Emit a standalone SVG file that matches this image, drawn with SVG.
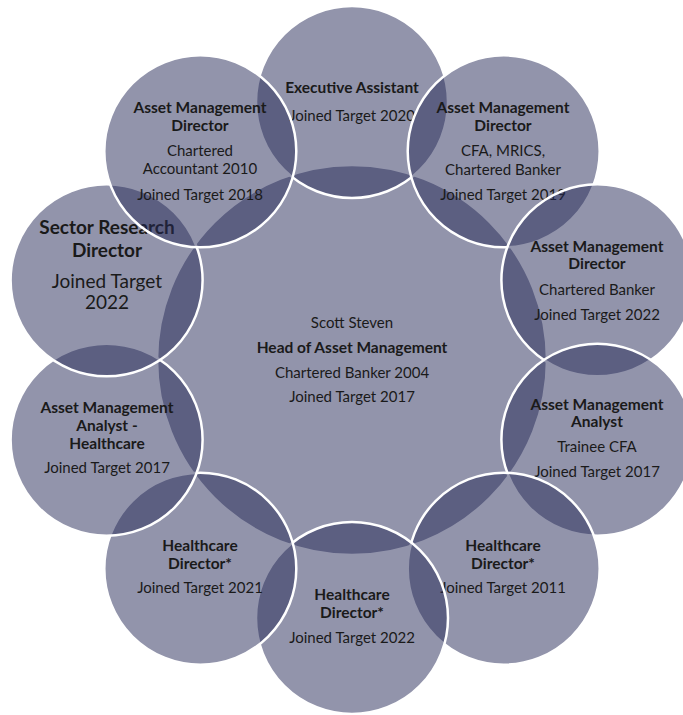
<svg xmlns="http://www.w3.org/2000/svg" width="683" height="715" viewBox="0 0 683 715">
<style>
.c{fill:#262A57;fill-opacity:0.5;stroke:#FFFFFF;stroke-width:2.5}
text{font-family:Lato,"Open Sans","Noto Sans",sans-serif;font-size:15px;fill:#1a1a1a;text-anchor:middle}
.b{font-weight:bold;font-size:15.5px}
.l{font-size:19px}
</style>
<rect width="683" height="715" fill="#FFFFFF"/>
<g id="center">
<circle class="c" cx="352" cy="360" r="195"/>
<text x="352" y="328">Scott Steven</text>
<text class="b" x="352" y="353">Head of Asset Management</text>
<text x="352" y="378">Chartered Banker 2004</text>
<text x="352" y="402">Joined Target 2017</text>
</g>
<g id="executive-assistant">
<circle class="c" cx="352" cy="102" r="96"/>
<text class="b" x="352" y="93">Executive Assistant</text>
<text x="352" y="121">Joined Target 2020</text>
</g>
<g id="amd-cfa">
<circle class="c" cx="503.7" cy="151.3" r="96"/>
<text class="b" x="503" y="113">Asset Management</text>
<text class="b" x="503" y="131">Director</text>
<text x="503" y="156">CFA, MRICS,</text>
<text x="503" y="175">Chartered Banker</text>
<text x="503" y="200">Joined Target 2019</text>
</g>
<g id="amd-banker">
<circle class="c" cx="597.4" cy="280.3" r="96"/>
<text class="b" x="597" y="252">Asset Management</text>
<text class="b" x="597" y="269">Director</text>
<text x="597" y="295">Chartered Banker</text>
<text x="597" y="320">Joined Target 2022</text>
</g>
<g id="analyst-trainee">
<circle class="c" cx="597.4" cy="439.7" r="96"/>
<text class="b" x="597" y="410">Asset Management</text>
<text class="b" x="597" y="427">Analyst</text>
<text x="597" y="452">Trainee CFA</text>
<text x="597" y="477">Joined Target 2017</text>
</g>
<g id="healthcare-2011">
<circle class="c" cx="503.7" cy="568.7" r="96"/>
<text class="b" x="503" y="551">Healthcare</text>
<text class="b" x="503" y="569">Director*</text>
<text x="503" y="593">Joined Target 2011</text>
</g>
<g id="healthcare-2022">
<circle class="c" cx="352" cy="618" r="96"/>
<text class="b" x="352" y="600">Healthcare</text>
<text class="b" x="352" y="618">Director*</text>
<text x="352" y="643">Joined Target 2022</text>
</g>
<g id="healthcare-2021">
<circle class="c" cx="200.3" cy="568.7" r="96"/>
<text class="b" x="200" y="551">Healthcare</text>
<text class="b" x="200" y="569">Director*</text>
<text x="200" y="593">Joined Target 2021</text>
</g>
<g id="analyst-healthcare">
<circle class="c" cx="106.6" cy="439.7" r="96"/>
<text class="b" x="107" y="413">Asset Management</text>
<text class="b" x="107" y="431">Analyst -</text>
<text class="b" x="107" y="449">Healthcare</text>
<text x="107" y="473">Joined Target 2017</text>
</g>
<g id="sector-research">
<circle class="c" cx="106.6" cy="280.3" r="96"/>
<text class="b l" x="107" y="234">Sector Research</text>
<text class="b l" x="107" y="257">Director</text>
<text class="l" x="107" y="288">Joined Target</text>
<text class="l" x="107" y="309">2022</text>
</g>
<g id="amd-accountant">
<circle class="c" cx="200.3" cy="151.3" r="96"/>
<text class="b" x="200" y="113">Asset Management</text>
<text class="b" x="200" y="131">Director</text>
<text x="200" y="156">Chartered</text>
<text x="200" y="174">Accountant 2010</text>
<text x="200" y="200">Joined Target 2018</text>
</g>
<g id="connectors"></g>
</svg>
